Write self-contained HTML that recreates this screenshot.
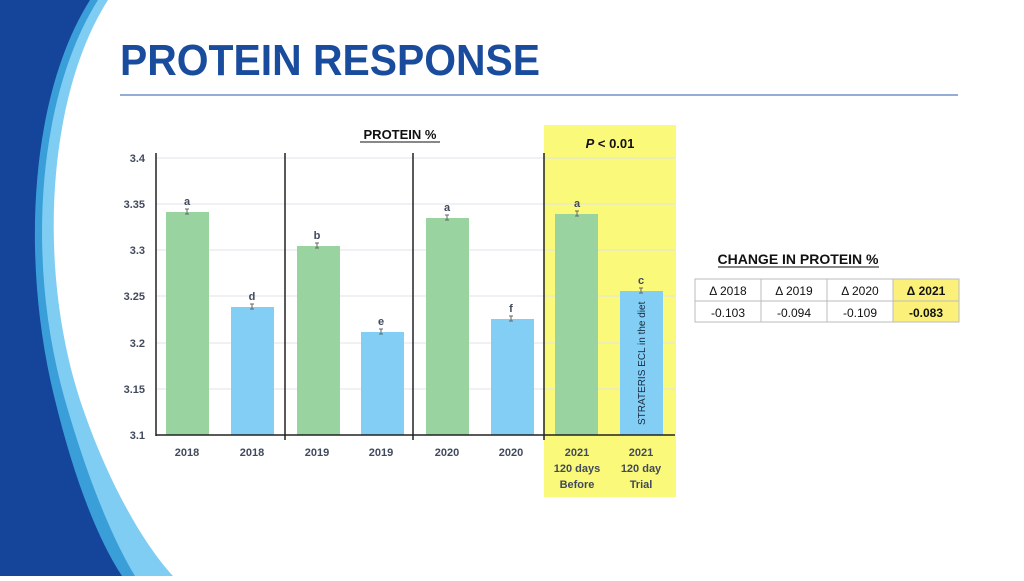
<!DOCTYPE html>
<html><head><meta charset="utf-8"><style>
body{margin:0;width:1024px;height:576px;overflow:hidden;background:#fff;font-family:"Liberation Sans",sans-serif}
</style></head><body>
<svg width="1024" height="576" viewBox="0 0 1024 576" xmlns="http://www.w3.org/2000/svg" font-family="Liberation Sans, sans-serif">
<path d="M0,0 L108,0 C50,90 35,260 80,400 C105,475 140,540 173,576 L0,576 Z" fill="#7fcdf2"/>
<path d="M0,0 L98,0 C38,95 25,260 65,400 C85,470 110,535 135,576 L0,576 Z" fill="#3a9fd8"/>
<path d="M0,0 L90,0 C30,95 20,260 55,400 C72,470 95,535 122,576 L0,576 Z" fill="#15449b"/>
<text x="120" y="75" font-size="44" font-weight="bold" fill="#1a4c9e" textLength="420" lengthAdjust="spacingAndGlyphs">PROTEIN RESPONSE</text>
<line x1="120" y1="95" x2="958" y2="95" stroke="#7090c8" stroke-width="1.5"/>
<rect x="544" y="125" width="132" height="372" fill="#fbf97a"/>
<g stroke="#dfe3ea" stroke-width="1">
<line x1="156" y1="158" x2="675" y2="158"/><line x1="156" y1="204" x2="675" y2="204"/><line x1="156" y1="250" x2="675" y2="250"/><line x1="156" y1="296" x2="675" y2="296"/><line x1="156" y1="343" x2="675" y2="343"/><line x1="156" y1="389" x2="675" y2="389"/>
</g>
<g font-size="11" font-weight="bold" fill="#404a5c" text-anchor="end">
<text x="145" y="162">3.4</text><text x="145" y="208">3.35</text><text x="145" y="254">3.3</text><text x="145" y="300">3.25</text><text x="145" y="347">3.2</text><text x="145" y="393">3.15</text><text x="145" y="439">3.1</text>
</g>
<g fill="#99d3a0">
<rect x="166" y="212" width="43" height="223"/><rect x="297" y="246" width="43" height="189"/><rect x="426" y="218" width="43" height="217"/><rect x="555" y="214" width="43" height="221"/>
</g>
<g fill="#82cef5">
<rect x="231" y="307" width="43" height="128"/><rect x="361" y="332" width="43" height="103"/><rect x="491" y="319" width="43" height="116"/><rect x="620" y="291" width="43" height="144"/>
</g>
<g stroke="#666" stroke-width="1">
<path d="M187,209v5M185,209h4M185,214h4"/>
<path d="M252,304v5M250,304h4M250,309h4"/>
<path d="M317,243v5M315,243h4M315,248h4"/>
<path d="M381,329v5M379,329h4M379,334h4"/>
<path d="M447,215v5M445,215h4M445,220h4"/>
<path d="M511,316v5M509,316h4M509,321h4"/>
<path d="M577,211v5M575,211h4M575,216h4"/>
<path d="M641,288v5M639,288h4M639,293h4"/>
</g>
<g font-size="11" font-weight="bold" fill="#404a5c" text-anchor="middle">
<text x="187" y="205">a</text><text x="252" y="300">d</text><text x="317" y="239">b</text><text x="381" y="325">e</text><text x="447" y="211">a</text><text x="511" y="312">f</text><text x="577" y="207">a</text><text x="641" y="284">c</text>
<text x="187" y="456">2018</text><text x="252" y="456">2018</text><text x="317" y="456">2019</text><text x="381" y="456">2019</text><text x="447" y="456">2020</text><text x="511" y="456">2020</text>
<text x="577" y="456">2021</text><text x="577" y="472">120 days</text><text x="577" y="488">Before</text>
<text x="641" y="456">2021</text><text x="641" y="472">120 day</text><text x="641" y="488">Trial</text>
</g>
<text transform="translate(645,425) rotate(-90)" font-size="10" fill="#1a2a40">STRATERIS ECL in the diet</text>
<g stroke="#222" stroke-width="1.5">
<line x1="156" y1="153" x2="156" y2="436"/><line x1="156" y1="435" x2="675" y2="435"/>
<line x1="285" y1="153" x2="285" y2="440"/><line x1="413" y1="153" x2="413" y2="440"/><line x1="544" y1="153" x2="544" y2="440"/>
</g>
<text x="400" y="139" font-size="13" font-weight="bold" text-anchor="middle" fill="#111">PROTEIN %</text>
<line x1="360" y1="142" x2="440" y2="142" stroke="#111" stroke-width="1"/>
<text x="610" y="148" font-size="13" font-weight="bold" text-anchor="middle" fill="#111"><tspan font-style="italic">P</tspan> &lt; 0.01</text>
<text x="798" y="264" font-size="14" font-weight="bold" text-anchor="middle" fill="#111">CHANGE IN PROTEIN %</text>
<line x1="718" y1="267" x2="879" y2="267" stroke="#111" stroke-width="1"/>
<rect x="893" y="279" width="66" height="43" fill="#fbf17a"/>
<g stroke="#bbb" stroke-width="1" fill="none">
<rect x="695" y="279" width="264" height="43"/><line x1="695" y1="301" x2="959" y2="301"/>
<line x1="761" y1="279" x2="761" y2="322"/><line x1="827" y1="279" x2="827" y2="322"/><line x1="893" y1="279" x2="893" y2="322"/>
</g>
<g font-size="12" text-anchor="middle" fill="#111">
<text x="728" y="295">Δ 2018</text><text x="794" y="295">Δ 2019</text><text x="860" y="295">Δ 2020</text><text x="926" y="295" font-weight="bold">Δ 2021</text>
<text x="728" y="317">-0.103</text><text x="794" y="317">-0.094</text><text x="860" y="317">-0.109</text><text x="926" y="317" font-weight="bold">-0.083</text>
</g>
</svg>
</body></html>
